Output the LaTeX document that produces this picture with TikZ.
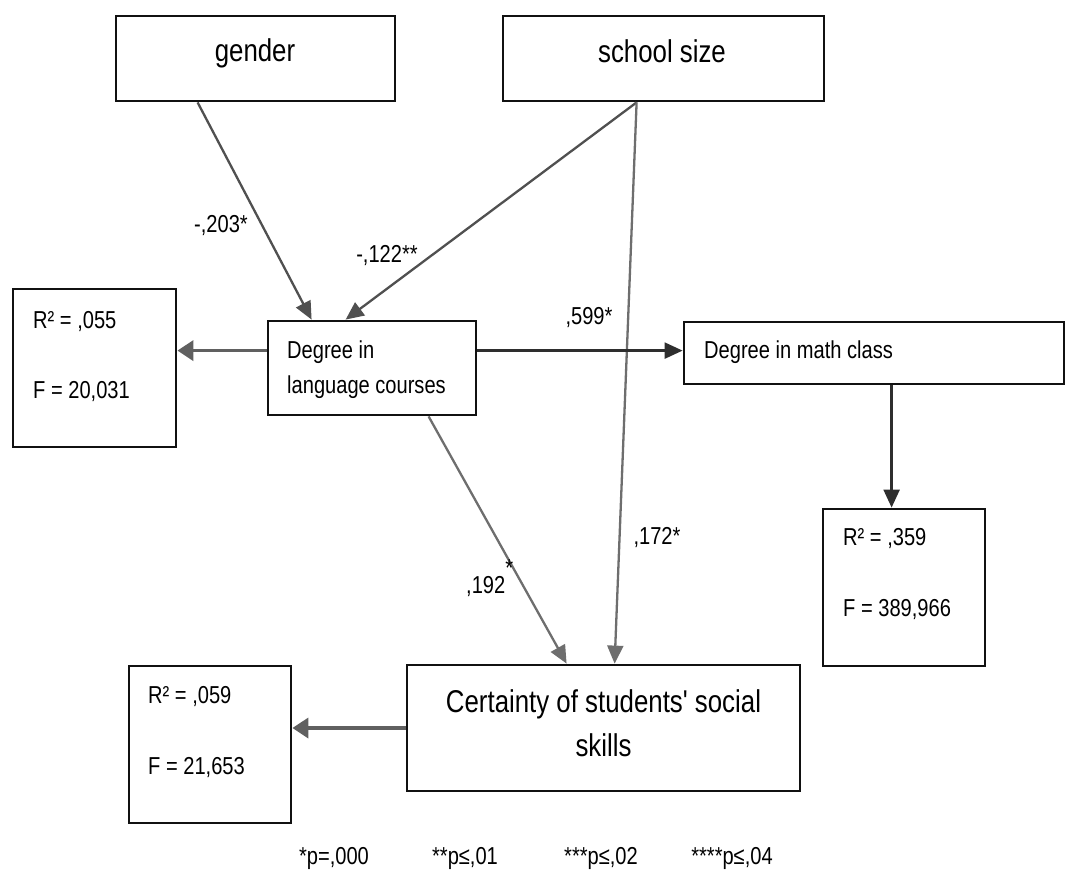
\documentclass[tikz,border=0pt]{standalone}
\usepackage{fontspec}
\setmainfont{Liberation Sans}[FakeStretch=0.82, Ligatures=TeXOff]
\usetikzlibrary{arrows.meta,calc}
\definecolor{boxline}{HTML}{111111}
\definecolor{darkarr}{HTML}{505050}
\definecolor{lightarr}{HTML}{6E6E6E}
\definecolor{blackarr}{HTML}{2E2E2E}
\definecolor{thickarr}{HTML}{606060}
\begin{document}
\begin{tikzpicture}[x=1pt,y=-1pt,
  box/.style={draw=boxline, line width=2.8pt, inner sep=0pt, fill=white},
  bigtxt/.style={font=\fontsize{31.5}{44}\selectfont, inner sep=0pt, text=black},
  txt/.style={font=\fontsize{24.5}{35}\selectfont, inner sep=0pt, text=black},
  arr/.style={-{Triangle[length=18pt,width=16pt]}, line width=2.3pt},
  thickarrow/.style={-{Triangle[length=16pt,width=20pt]}, line width=3.6pt, draw=thickarr}]
\useasboundingbox (0,0) rectangle (1067,870);

% boxes
\node[box, minimum width=279pt, minimum height=85pt] (gender) at (255.5,58.5) {};
\node[box, minimum width=321pt, minimum height=85pt] (school) at (663.5,58.5) {};
\node[box, minimum width=163pt, minimum height=158pt] (r1) at (94.5,368) {};
\node[box, minimum width=208pt, minimum height=94pt] (lang) at (372,368) {};
\node[box, minimum width=380pt, minimum height=62pt] (math) at (874,353) {};
\node[box, minimum width=162pt, minimum height=157pt] (r3) at (904,587.5) {};
\node[box, minimum width=393pt, minimum height=126pt] (cert) at (603.5,728) {};
\node[box, minimum width=162pt, minimum height=157pt] (r2) at (210,744.5) {};

% box texts
\node[bigtxt] (gendert) at (255,53) {gender};
\node[bigtxt] (schoolt) at (662,51) {school size};
\node[txt, anchor=west, align=left] (langt) at (287,370) {Degree in\\language courses};
\node[txt, anchor=west] (matht) at (704,352) {Degree in math class};
\node[bigtxt, align=center] (certt) at (603.5,723) {Certainty of students' social\\skills};
\node[txt, anchor=west] (r1a) at (33,322) {R² = ,055};
\node[txt, anchor=west] (r1b) at (33,392) {F = 20,031};
\node[txt, anchor=west] (r3a) at (843,539) {R² = ,359};
\node[txt, anchor=west] (r3b) at (843,610) {F = 389,966};
\node[txt, anchor=west] (r2a) at (148,697) {R² = ,059};
\node[txt, anchor=west] (r2b) at (148,768) {F = 21,653};

% connector anchor points
\coordinate (gs) at ($(gender.south west)+(83,0)$);
\coordinate (ss) at ($(school.south west)+(135,0)$);
\coordinate (lg) at ($(lang.north west)+(45,0)$);
\coordinate (lsz) at ($(lang.north west)+(79,0)$);
\coordinate (ls) at ($(lang.south west)+(162,0)$);
\coordinate (cl) at ($(cert.north west)+(161,0)$);
\coordinate (cs) at ($(cert.north west)+(209,0)$);
\coordinate (ly) at ($(lang.north west)+(0,31)$);
\coordinate (ms) at ($(math.south west)+(209,0)$);

% connectors
\draw[arr, draw=darkarr] (gs) -- (lg);
\draw[arr, draw=darkarr] (ss) -- (lsz);
\draw[arr, draw=lightarr] (ss) -- (cs);
\draw[arr, draw=lightarr] (ls) -- (cl);
\draw[arr, draw=blackarr] (ly -| lang.east) -- (ly -| math.west);
\draw[arr, draw=blackarr] (ms) -- (ms |- r3.north);
\draw[thickarrow] (ly) -- (ly -| r1.east);
\draw[thickarrow] (cert.west) -- (cert.west -| r2.east);

% edge labels
\node[txt] (l203) at (221,226) {-,203*};
\node[txt] (l122) at (387,256) {-,122**};
\node[txt] (l599) at (589,318) {,599*};
\node[txt, anchor=west] (l192) at (466,578) {,192\raisebox{17pt}{*}};
\node[txt] (l172) at (657,538) {,172*};

% footnotes
\node[txt] (f1) at (334,858) {*p=,000};
\node[txt] (f2) at (465,858) {**p≤,01};
\node[txt] (f3) at (601,858) {***p≤,02};
\node[txt] (f4) at (732,858) {****p≤,04};
\end{tikzpicture}
\end{document}
